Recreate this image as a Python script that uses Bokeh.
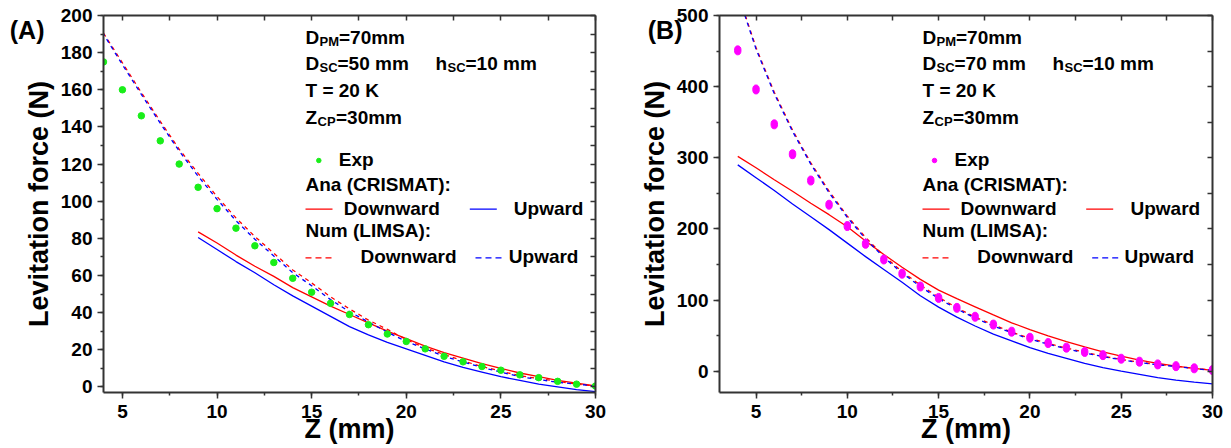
from bokeh.plotting import figure
from bokeh.models import Range1d, LinearAxis, Label, SingleIntervalTicker, FixedTicker
from bokeh.layouts import row
from bokeh.embed import file_html
from bokeh.resources import INLINE

# ---------------- data ----------------
z = list(range(4, 31))          # Z (mm) for experiment / numerical
z_ana_a = list(range(9, 31))    # analytical curves, panel A

# Panel A  (D_SC = 50 mm)
a_exp = [175, 160, 146, 132.5, 120, 107.5, 96, 85.5, 76, 67, 58.5, 51, 45, 39,
         33.5, 28.5, 24.5, 20.5, 16.5, 13.5, 11, 9, 6.5, 5, 3, 1.5, 0.5]
a_num_down = [190.5, 174.5, 158.5, 143, 128, 115, 102.5, 91, 81, 72, 63, 56, 48.5,
              42, 36, 31, 25.5, 21, 17.5, 14, 11, 8.5, 6, 4.5, 3, 1.5, 0.5]
a_num_up = [190, 173.5, 157.5, 142, 127, 113.5, 101, 89.5, 79.5, 70.5, 61.5, 54.5,
            47, 40.5, 35, 29.5, 24.5, 20.5, 16.5, 13.5, 10.5, 8, 5.5, 4, 2.5, 1.5, 0.5]
a_ana_down = [83.5, 77.5, 71, 65, 59.5, 53.5, 48.5, 43.5, 39, 34.5, 30, 26, 22,
              18.5, 15.5, 12.5, 10, 7.5, 5.5, 3.5, 2, 0.5]
a_ana_up = [80.5, 74, 67.5, 61.5, 55, 49, 43.5, 38, 32.5, 28, 24, 20.5, 17, 13.5,
            10.5, 8, 5.5, 3.5, 1.5, 0, -1.5, -2.5]

# Panel B  (D_SC = 70 mm)
b_exp = [451, 396, 347, 305, 268, 234, 204, 179, 157, 137, 119, 103, 89, 76.5, 65.5,
         55.5, 47, 39.5, 33, 27, 22.5, 17.5, 13.3, 9.5, 7, 4, 1.5]
b_num_down = [532, 455, 392, 339, 293, 253, 218, 188, 162, 140, 121, 104, 89, 76, 65,
              55, 46, 39, 32.5, 26.5, 21, 16.5, 12.5, 9.5, 7, 4, 1.5]
b_num_up = [530, 453, 390, 337, 291, 251, 216, 186, 160, 138, 119, 102, 87.5, 74.5,
            63.5, 54, 45, 38, 31.5, 25.5, 20.5, 16, 12, 9, 6.5, 3.5, 1]
b_ana_down = [302, 286, 269, 253, 236, 220, 203, 183, 164, 146, 129, 114, 102, 90.5,
              79, 68, 58.5, 49.5, 41.5, 34, 27, 21, 15.5, 11, 7, 4, 1]
b_ana_up = [290, 272, 254, 235, 217, 199, 180, 161, 143, 125, 106, 90, 76, 63.5, 52,
            42.5, 33, 25, 18, 11, 5, 0, -4.5, -9, -12.5, -15.5, -18]

x_label = "Z (mm)"
y_label = "Levitation force (N)"

FONT = "Liberation Sans"
RED = "#FF0000"
BLUE = "#0000FF"
GREEN = "#19EE19"
MAGENTA = "#FF00FF"
AXC = "#333333"


def make_panel(width, border_left, border_right, frame_px, xr, yr, yint,
               tag, tag_value, tag_standoff):
    p = figure(width=width, height=448, output_backend="svg", toolbar_location=None,
               x_range=Range1d(*xr), y_range=Range1d(*yr),
               min_border_left=border_left, min_border_right=border_right,
               min_border_top=15, min_border_bottom=56,
               x_axis_location=None, y_axis_location=None)
    p.outline_line_color = None
    p.xgrid.visible = False
    p.ygrid.visible = False

    def base(ax):
        ax.axis_line_color = AXC
        ax.axis_line_width = 2
        ax.major_tick_line_color = AXC
        ax.minor_tick_line_color = AXC
        ax.major_tick_line_width = 1.5
        ax.minor_tick_line_width = 1.5

    def labelled(ax):
        base(ax)
        ax.major_tick_in, ax.major_tick_out = 0, 6
        ax.minor_tick_in, ax.minor_tick_out = 0, 3
        ax.major_label_text_font = FONT
        ax.major_label_text_font_style = "bold"
        ax.major_label_text_font_size = "19px"
        ax.major_label_text_color = "black"
        ax.axis_label_text_font = FONT
        ax.axis_label_text_font_style = "bold"
        ax.axis_label_text_font_size = "27px"
        ax.axis_label_text_color = "black"

    def mirror(ax):
        base(ax)
        ax.major_tick_in, ax.major_tick_out = 0, 0
        ax.minor_tick_in, ax.minor_tick_out = 5, 0
        ax.major_label_standoff = 0

    xb = LinearAxis(ticker=SingleIntervalTicker(interval=5, num_minor_ticks=2),
                    axis_label=x_label)
    labelled(xb)
    xb.major_label_standoff = 6
    xb.axis_label_standoff = -7
    p.add_layout(xb, "below")

    yl = LinearAxis(ticker=SingleIntervalTicker(interval=yint, num_minor_ticks=2),
                    axis_label=y_label)
    labelled(yl)
    yl.major_label_standoff = 5
    yl.axis_label_standoff = 4
    p.add_layout(yl, "left")

    # outer left axis only carrying the panel tag "(A)" / "(B)"
    tag_ax = LinearAxis(ticker=FixedTicker(ticks=[tag_value]),
                        major_label_overrides={tag_value: tag})
    tag_ax.axis_line_color = None
    tag_ax.major_tick_line_color = None
    tag_ax.major_tick_in, tag_ax.major_tick_out = 0, 0
    tag_ax.major_label_standoff = tag_standoff
    tag_ax.major_label_text_font = FONT
    tag_ax.major_label_text_font_style = "bold"
    tag_ax.major_label_text_font_size = "25px"
    tag_ax.major_label_text_color = "black"
    p.add_layout(tag_ax, "left")

    # mirrored axes (ticks inward, no labels)
    xmin = [v * 2.5 for v in range(int(xr[0] / 2.5) + 1, int(xr[1] / 2.5) + 1)]
    xt = LinearAxis(ticker=FixedTicker(ticks=[], minor_ticks=xmin))
    mirror(xt)
    p.add_layout(xt, "above")
    ymin = [v * yint / 2 for v in range(int(yr[0] / (yint / 2)), int(yr[1] / (yint / 2)) + 1)]
    yr_ax = LinearAxis(ticker=FixedTicker(ticks=[], minor_ticks=ymin))
    mirror(yr_ax)
    p.add_layout(yr_ax, "right")

    L, T, R, B = frame_px

    def fx(px):
        return xr[0] + (px - L) / (R - L) * (xr[1] - xr[0])

    def fy(py):
        return yr[1] - (py - T) / (B - T) * (yr[1] - yr[0])

    return p, fx, fy


def txt(p, x, y, s, size=19):
    p.add_layout(Label(x=x, y=y, text=s, text_font=FONT, text_font_style="bold",
                       text_font_size=f"{size}px", text_color="black",
                       text_align="left", text_baseline="middle"))


def annotate(p, fx, fy, x0, dsc, upward_color, key):
    txt(p, fx(x0), fy(36.5), "D")
    txt(p, fx(x0 + 14), fy(40.5), "PM", size=13)
    txt(p, fx(x0 + 33.5), fy(36.5), "=70mm")
    txt(p, fx(x0), fy(63.3), "D")
    txt(p, fx(x0 + 14), fy(67.3), "SC", size=13)
    txt(p, fx(x0 + 32), fy(63.3), f"={dsc} mm")
    txt(p, fx(x0 + 130), fy(63.3), "h")
    txt(p, fx(x0 + 142), fy(67.3), "SC", size=13)
    txt(p, fx(x0 + 160), fy(63.3), "=10 mm")
    txt(p, fx(x0), fy(90.3), "T = 20 K")
    txt(p, fx(x0), fy(117), "Z")
    txt(p, fx(x0 + 12), fy(121), "CP", size=13)
    txt(p, fx(x0 + 30.5), fy(117), "=30mm")
    txt(p, fx(x0 + key["exp"] + 20), fy(158.7), "Exp")
    txt(p, fx(x0), fy(183.7), "Ana (CRISMAT):")
    txt(p, fx(x0 + key["d1"]), fy(208), "Downward")
    txt(p, fx(x0 + key["u1"]), fy(208), "Upward")
    txt(p, fx(x0), fy(230.3), "Num (LIMSA):")
    txt(p, fx(x0 + key["d2"]), fy(256.3), "Downward")
    txt(p, fx(x0 + key["u2"]), fy(256.3), "Upward")
    # legend keys
    p.segment(x0=[fx(x0)], y0=[fy(208.7)], x1=[fx(x0 + 27)], y1=[fy(208.7)],
              line_color=RED, line_width=1.3)
    p.segment(x0=[fx(x0 + key["u1k"])], y0=[fy(208.7)], x1=[fx(x0 + key["u1k"] + 27)],
              y1=[fy(208.7)], line_color=upward_color, line_width=1.3)
    p.segment(x0=[fx(x0)], y0=[fy(257.3)], x1=[fx(x0 + 28)], y1=[fy(257.3)],
              line_color=RED, line_width=1.3, line_dash="6 4")
    p.segment(x0=[fx(x0 + key["u2k"])], y0=[fy(257.3)], x1=[fx(x0 + key["u2k"] + 28)],
              y1=[fy(257.3)], line_color=BLUE, line_width=1.3, line_dash="6 4")


# ---------------- Panel A ----------------
pa, fxa, fya = make_panel(615, 103, 20, (103, 15, 595, 392), (4, 30), (-3, 200), 20,
                          "(A)", 192, -24)
pa.line(z_ana_a, a_ana_down, line_color=RED, line_width=1.3)
pa.line(z_ana_a, a_ana_up, line_color=BLUE, line_width=1.3)
pa.line(z, a_num_down, line_color=RED, line_width=1.3, line_dash="4 4")
pa.line(z, a_num_up, line_color=BLUE, line_width=1.3, line_dash="4 4", line_dash_offset=2)
pa.scatter(z, a_exp, size=6.5, fill_color=GREEN, line_color=GREEN)
pa.scatter([fxa(318.3)], [fya(160)], size=4.5, fill_color=GREEN, line_color=GREEN)
annotate(pa, fxa, fya, 305, 50, BLUE,
         {"exp": 13.3, "d1": 38.3, "u1": 208.3, "u1k": 164.3,
          "d2": 55, "u2": 203.3, "u2k": 170})

# ---------------- Panel B ----------------
pb, fxb, fyb = make_panel(616, 104, 19, (719, 15, 1212, 392), (3, 30), (-30, 500), 100,
                          "(B)", 480, -46)
pb.line(z, b_ana_down, line_color=RED, line_width=1.3)
pb.line(z, b_ana_up, line_color=BLUE, line_width=1.3)
pb.line(z, b_num_down, line_color=RED, line_width=1.3, line_dash="4 4")
pb.line(z, b_num_up, line_color=BLUE, line_width=1.3, line_dash="4 4", line_dash_offset=2)
pb.ellipse(z, b_exp, width=6.5, height=9, width_units="screen", height_units="screen",
           fill_color=MAGENTA, line_color=MAGENTA)
pb.scatter([fxb(934)], [fyb(160)], size=4.5, fill_color=MAGENTA, line_color=MAGENTA)
annotate(pb, fxb, fyb, 922, 70, RED,
         {"exp": 12, "d1": 38, "u1": 208, "u1k": 163.7,
          "d2": 54.7, "u2": 202, "u2k": 169.7})

layout = row(pa, pb)
open("out.html", "w").write(file_html(layout, INLINE))
